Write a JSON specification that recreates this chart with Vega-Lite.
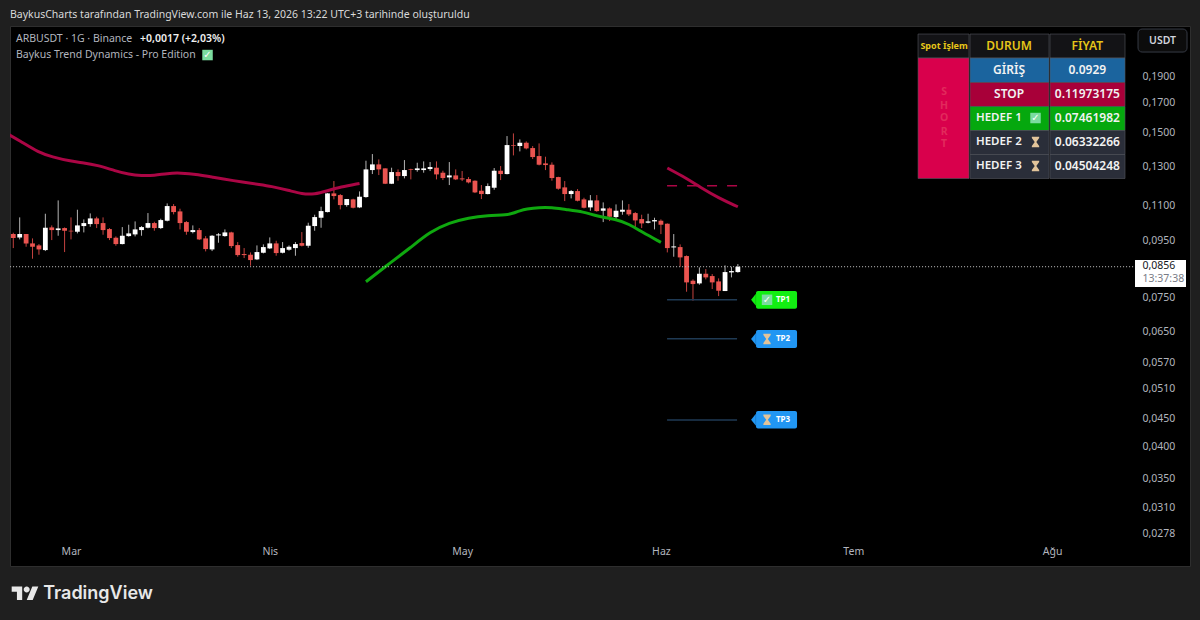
{
  "$schema": "https://vega.github.io/schema/vega-lite/v6.json",
  "width": 1180,
  "height": 540,
  "autosize": {"type": "none"},
  "padding": {"left": 10, "top": 26, "right": 10, "bottom": 54},
  "background": "#1f1f1f",
  "view": {"fill": "#000000", "stroke": "#2e2e2e"},
  "title": {
    "text": "BaykusCharts tarafından TradingView.com ile Haz 13, 2026 13:22 UTC+3 tarihinde oluşturuldu",
    "anchor": "start",
    "frame": "group",
    "offset": 6,
    "font": "Noto Sans",
    "fontSize": 10.5,
    "fontWeight": "normal",
    "color": "#d9d9d9"
  },
  "datasets": {
    "candles": [
      {"date":"2026-02-20","open":0.09775,"high":0.09830,"low":0.09215,"close":0.09611},
      {"date":"2026-02-21","open":0.09638,"high":0.10485,"low":0.09558,"close":0.09775},
      {"date":"2026-02-22","open":0.09775,"high":0.09775,"low":0.09267,"close":0.09398},
      {"date":"2026-02-23","open":0.09398,"high":0.09598,"low":0.08812,"close":0.09267},
      {"date":"2026-02-24","open":0.09319,"high":0.09372,"low":0.08961,"close":0.09164},
      {"date":"2026-02-25","open":0.09138,"high":0.10647,"low":0.09100,"close":0.10038},
      {"date":"2026-02-26","open":0.10052,"high":0.10137,"low":0.09531,"close":0.09940},
      {"date":"2026-02-27","open":0.09940,"high":0.11261,"low":0.09706,"close":0.10010},
      {"date":"2026-02-28","open":0.10024,"high":0.10052,"low":0.09062,"close":0.09912},
      {"date":"2026-03-01","open":0.09912,"high":0.10485,"low":0.09558,"close":0.09885},
      {"date":"2026-03-02","open":0.09871,"high":0.10828,"low":0.09802,"close":0.10137},
      {"date":"2026-03-03","open":0.10109,"high":0.10396,"low":0.09843,"close":0.10237},
      {"date":"2026-03-04","open":0.10194,"high":0.10662,"low":0.10080,"close":0.10440},
      {"date":"2026-03-05","open":0.10440,"high":0.10514,"low":0.10024,"close":0.10194},
      {"date":"2026-03-06","open":0.10237,"high":0.10485,"low":0.09747,"close":0.09940},
      {"date":"2026-03-07","open":0.09982,"high":0.10024,"low":0.09531,"close":0.09611},
      {"date":"2026-03-08","open":0.09625,"high":0.09679,"low":0.09306,"close":0.09372},
      {"date":"2026-03-09","open":0.09372,"high":0.10066,"low":0.09359,"close":0.09706},
      {"date":"2026-03-10","open":0.09692,"high":0.10166,"low":0.09665,"close":0.09802},
      {"date":"2026-03-11","open":0.09761,"high":0.10309,"low":0.09679,"close":0.09968},
      {"date":"2026-03-12","open":0.09940,"high":0.10109,"low":0.09706,"close":0.10066},
      {"date":"2026-03-13","open":0.10038,"high":0.10677,"low":0.10010,"close":0.10237},
      {"date":"2026-03-14","open":0.10237,"high":0.10295,"low":0.09912,"close":0.10024},
      {"date":"2026-03-15","open":0.10024,"high":0.10426,"low":0.09982,"close":0.10367},
      {"date":"2026-03-16","open":0.10338,"high":0.11120,"low":0.10309,"close":0.10996},
      {"date":"2026-03-17","open":0.10996,"high":0.11089,"low":0.10618,"close":0.10722},
      {"date":"2026-03-18","open":0.10752,"high":0.10874,"low":0.09968,"close":0.10237},
      {"date":"2026-03-19","open":0.10280,"high":0.10323,"low":0.09747,"close":0.09871},
      {"date":"2026-03-20","open":0.09857,"high":0.10137,"low":0.09802,"close":0.09940},
      {"date":"2026-03-21","open":0.09940,"high":0.10024,"low":0.09531,"close":0.09558},
      {"date":"2026-03-22","open":0.09598,"high":0.09692,"low":0.09087,"close":0.09177},
      {"date":"2026-03-23","open":0.09164,"high":0.09733,"low":0.09100,"close":0.09706},
      {"date":"2026-03-24","open":0.09720,"high":0.09816,"low":0.09425,"close":0.09761},
      {"date":"2026-03-25","open":0.09692,"high":0.09968,"low":0.09665,"close":0.09843},
      {"date":"2026-03-26","open":0.09843,"high":0.09871,"low":0.09215,"close":0.09293},
      {"date":"2026-03-27","open":0.09332,"high":0.09451,"low":0.08886,"close":0.08948},
      {"date":"2026-03-28","open":0.08986,"high":0.09215,"low":0.08836,"close":0.08948},
      {"date":"2026-03-29","open":0.08961,"high":0.09049,"low":0.08556,"close":0.08762},
      {"date":"2026-03-30","open":0.08787,"high":0.09319,"low":0.08762,"close":0.09062},
      {"date":"2026-03-31","open":0.09036,"high":0.09359,"low":0.09011,"close":0.09254},
      {"date":"2026-04-01","open":0.09203,"high":0.09638,"low":0.09177,"close":0.09398},
      {"date":"2026-04-02","open":0.09398,"high":0.09504,"low":0.08923,"close":0.09024},
      {"date":"2026-04-03","open":0.09036,"high":0.09451,"low":0.09011,"close":0.09215},
      {"date":"2026-04-04","open":0.09151,"high":0.09319,"low":0.09113,"close":0.09267},
      {"date":"2026-04-05","open":0.09215,"high":0.09451,"low":0.08923,"close":0.09372},
      {"date":"2026-04-06","open":0.09411,"high":0.09857,"low":0.09280,"close":0.09306},
      {"date":"2026-04-07","open":0.09306,"high":0.10252,"low":0.09228,"close":0.10123},
      {"date":"2026-04-08","open":0.10109,"high":0.10603,"low":0.09912,"close":0.10499},
      {"date":"2026-04-09","open":0.10470,"high":0.10965,"low":0.10038,"close":0.10767},
      {"date":"2026-04-10","open":0.10722,"high":0.11614,"low":0.10707,"close":0.11598},
      {"date":"2026-04-11","open":0.11598,"high":0.12216,"low":0.11309,"close":0.11469},
      {"date":"2026-04-12","open":0.11517,"high":0.11566,"low":0.10843,"close":0.11042},
      {"date":"2026-04-13","open":0.11042,"high":0.11325,"low":0.10965,"close":0.11325},
      {"date":"2026-04-14","open":0.11309,"high":0.11341,"low":0.10889,"close":0.10919},
      {"date":"2026-04-15","open":0.10935,"high":0.11696,"low":0.10904,"close":0.11437},
      {"date":"2026-04-16","open":0.11421,"high":0.13306,"low":0.11389,"close":0.12830},
      {"date":"2026-04-17","open":0.12794,"high":0.13685,"low":0.12581,"close":0.13103},
      {"date":"2026-04-18","open":0.13103,"high":0.13381,"low":0.12528,"close":0.12830},
      {"date":"2026-04-19","open":0.12885,"high":0.12885,"low":0.12062,"close":0.12079},
      {"date":"2026-04-20","open":0.12079,"high":0.12921,"low":0.12062,"close":0.12687},
      {"date":"2026-04-21","open":0.12687,"high":0.12830,"low":0.12233,"close":0.12475},
      {"date":"2026-04-22","open":0.12475,"high":0.13343,"low":0.12354,"close":0.12794},
      {"date":"2026-04-23","open":0.12849,"high":0.12867,"low":0.12302,"close":0.12812},
      {"date":"2026-04-24","open":0.12794,"high":0.13195,"low":0.12705,"close":0.12885},
      {"date":"2026-04-25","open":0.12794,"high":0.13269,"low":0.12652,"close":0.12885},
      {"date":"2026-04-26","open":0.12849,"high":0.13232,"low":0.12741,"close":0.12957},
      {"date":"2026-04-27","open":0.12921,"high":0.13269,"low":0.12302,"close":0.12563},
      {"date":"2026-04-28","open":0.12652,"high":0.12758,"low":0.12267,"close":0.12371},
      {"date":"2026-04-29","open":0.12405,"high":0.13232,"low":0.12012,"close":0.12510},
      {"date":"2026-04-30","open":0.12510,"high":0.12830,"low":0.12267,"close":0.12302},
      {"date":"2026-05-01","open":0.12354,"high":0.12741,"low":0.12216,"close":0.12302},
      {"date":"2026-05-02","open":0.12319,"high":0.12423,"low":0.12096,"close":0.12147},
      {"date":"2026-05-03","open":0.12233,"high":0.12250,"low":0.11614,"close":0.11647},
      {"date":"2026-05-04","open":0.11729,"high":0.12012,"low":0.11325,"close":0.11566},
      {"date":"2026-05-05","open":0.11566,"high":0.12096,"low":0.11550,"close":0.11962},
      {"date":"2026-05-06","open":0.11878,"high":0.12903,"low":0.11778,"close":0.12758},
      {"date":"2026-05-07","open":0.12758,"high":0.13012,"low":0.12267,"close":0.12581},
      {"date":"2026-05-08","open":0.12581,"high":0.14760,"low":0.12563,"close":0.14212},
      {"date":"2026-05-09","open":0.14212,"high":0.14926,"low":0.13608,"close":0.14173},
      {"date":"2026-05-10","open":0.14153,"high":0.14555,"low":0.13839,"close":0.14352},
      {"date":"2026-05-11","open":0.14352,"high":0.14433,"low":0.13955,"close":0.14014},
      {"date":"2026-05-12","open":0.14034,"high":0.14153,"low":0.13400,"close":0.13513},
      {"date":"2026-05-13","open":0.13570,"high":0.14312,"low":0.13048,"close":0.13085},
      {"date":"2026-05-14","open":0.13158,"high":0.13532,"low":0.12794,"close":0.13066},
      {"date":"2026-05-15","open":0.13085,"high":0.13214,"low":0.12233,"close":0.12371},
      {"date":"2026-05-16","open":0.12423,"high":0.12440,"low":0.11778,"close":0.11828},
      {"date":"2026-05-17","open":0.11895,"high":0.12216,"low":0.11230,"close":0.11566},
      {"date":"2026-05-18","open":0.11566,"high":0.11762,"low":0.11357,"close":0.11712},
      {"date":"2026-05-19","open":0.11712,"high":0.11812,"low":0.11214,"close":0.11245},
      {"date":"2026-05-20","open":0.11309,"high":0.11389,"low":0.10889,"close":0.10919},
      {"date":"2026-05-21","open":0.10935,"high":0.11517,"low":0.10782,"close":0.11261},
      {"date":"2026-05-22","open":0.11261,"high":0.11517,"low":0.10737,"close":0.10767},
      {"date":"2026-05-23","open":0.10782,"high":0.11167,"low":0.10280,"close":0.10889},
      {"date":"2026-05-24","open":0.10889,"high":0.10935,"low":0.10323,"close":0.10514},
      {"date":"2026-05-25","open":0.10499,"high":0.11073,"low":0.10396,"close":0.10782},
      {"date":"2026-05-26","open":0.10737,"high":0.11261,"low":0.10603,"close":0.10828},
      {"date":"2026-05-27","open":0.10828,"high":0.11089,"low":0.10544,"close":0.10618},
      {"date":"2026-05-28","open":0.10677,"high":0.10722,"low":0.10010,"close":0.10353},
      {"date":"2026-05-29","open":0.10411,"high":0.10603,"low":0.10024,"close":0.10223},
      {"date":"2026-05-30","open":0.10252,"high":0.10647,"low":0.10223,"close":0.10309},
      {"date":"2026-05-31","open":0.10309,"high":0.10470,"low":0.09968,"close":0.10367},
      {"date":"2026-06-01","open":0.10338,"high":0.10396,"low":0.09775,"close":0.10166},
      {"date":"2026-06-02","open":0.10209,"high":0.10223,"low":0.09049,"close":0.09215},
      {"date":"2026-06-03","open":0.09241,"high":0.09775,"low":0.08886,"close":0.09280},
      {"date":"2026-06-04","open":0.09254,"high":0.09359,"low":0.08520,"close":0.08861},
      {"date":"2026-06-05","open":0.08911,"high":0.08936,"low":0.07670,"close":0.07977},
      {"date":"2026-06-06","open":0.08033,"high":0.08078,"low":0.07385,"close":0.07921},
      {"date":"2026-06-07","open":0.07943,"high":0.08496,"low":0.07899,"close":0.08272},
      {"date":"2026-06-08","open":0.08272,"high":0.08437,"low":0.08078,"close":0.08146},
      {"date":"2026-06-09","open":0.08192,"high":0.08261,"low":0.07757,"close":0.07977},
      {"date":"2026-06-10","open":0.08010,"high":0.08112,"low":0.07531,"close":0.07702},
      {"date":"2026-06-11","open":0.07692,"high":0.08568,"low":0.07692,"close":0.08331},
      {"date":"2026-06-12","open":0.08319,"high":0.08520,"low":0.08146,"close":0.08366},
      {"date":"2026-06-13","open":0.08331,"high":0.08616,"low":0.08308,"close":0.08520}
    ]
  },
  "encoding": {
    "x": {
      "field": "date",
      "type": "temporal",
      "title": null,
      "scale": {
        "type": "utc",
        "padding": 0,
        "domain": [
          {"year": 2026, "month": 2, "date": 19, "hours": 11, "minutes": 41, "utc": true},
          {"year": 2026, "month": 8, "date": 22, "hours": 12, "minutes": 19, "utc": true}
        ]
      },
      "axis": {
        "values": [
          {"year": 2026, "month": 3, "date": 1, "utc": true},
          {"year": 2026, "month": 4, "date": 1, "utc": true},
          {"year": 2026, "month": 5, "date": 1, "utc": true},
          {"year": 2026, "month": 6, "date": 1, "utc": true},
          {"year": 2026, "month": 7, "date": 1, "utc": true},
          {"year": 2026, "month": 8, "date": 1, "utc": true}
        ],
        "labelExpr": "['Oca','Şub','Mar','Nis','May','Haz','Tem','Ağu'][utcmonth(datum.value)]",
        "offset": -20,
        "domain": false,
        "ticks": false,
        "grid": false,
        "labelPadding": 0,
        "labelFont": "Noto Sans",
        "labelFontSize": 10.5,
        "labelColor": "#b2b5be"
      }
    },
    "y": {
      "field": "price",
      "type": "quantitative",
      "title": null,
      "scale": {"type": "log", "domain": [0.0242, 0.2345], "nice": false, "zero": false},
      "axis": {
        "orient": "right",
        "values": [0.19, 0.17, 0.15, 0.13, 0.11, 0.095, 0.075, 0.065, 0.057, 0.051, 0.045, 0.04, 0.035, 0.031, 0.0278],
        "labelExpr": "replace(format(datum.value, '.4f'), '.', ',')",
        "offset": -48,
        "domain": false,
        "ticks": false,
        "grid": false,
        "labelPadding": 0,
        "labelFont": "Noto Sans",
        "labelFontSize": 10.5,
        "labelColor": "#b2b5be"
      }
    }
  },
  "layer": [
    {
      "data": {"name": "candles"},
      "mark": {"type": "rule", "strokeWidth": 1},
      "encoding": {
        "y": {
          "field": "high",
          "type": "quantitative",
          "title": null,
          "scale": {"type": "log", "domain": [0.0242, 0.2345], "nice": false, "zero": false},
          "axis": {
            "orient": "right",
            "values": [0.19, 0.17, 0.15, 0.13, 0.11, 0.095, 0.075, 0.065, 0.057, 0.051, 0.045, 0.04, 0.035, 0.031, 0.0278],
            "labelExpr": "replace(format(datum.value, '.4f'), '.', ',')",
            "offset": -48,
            "domain": false,
            "ticks": false,
            "grid": false,
            "labelPadding": 0,
            "labelFont": "Noto Sans",
            "labelFontSize": 10.5,
            "labelColor": "#b2b5be"
          }
        },
        "y2": {"field": "low"},
        "color": {"condition": {"test": "datum.close >= datum.open", "value": "#b4b4b4"}, "value": "#c4423f"}
      }
    },
    {
      "data": {"name": "candles"},
      "mark": {"type": "bar", "size": 4.8},
      "encoding": {
        "y": {
          "field": "open",
          "type": "quantitative",
          "title": null,
          "scale": {"type": "log", "domain": [0.0242, 0.2345], "nice": false, "zero": false},
          "axis": {
            "orient": "right",
            "values": [0.19, 0.17, 0.15, 0.13, 0.11, 0.095, 0.075, 0.065, 0.057, 0.051, 0.045, 0.04, 0.035, 0.031, 0.0278],
            "labelExpr": "replace(format(datum.value, '.4f'), '.', ',')",
            "offset": -48,
            "domain": false,
            "ticks": false,
            "grid": false,
            "labelPadding": 0,
            "labelFont": "Noto Sans",
            "labelFontSize": 10.5,
            "labelColor": "#b2b5be"
          }
        },
        "y2": {"field": "close"},
        "color": {"condition": {"test": "datum.close >= datum.open", "value": "#ffffff"}, "value": "#ea5450"}
      }
    },
    {
      "data": {"values": [
        {"segment": "trend", "date": "2026-02-19", "price": 0.14926},
        {"segment": "trend", "date": "2026-02-21", "price": 0.14473},
        {"segment": "trend", "date": "2026-02-24", "price": 0.13762},
        {"segment": "trend", "date": "2026-02-26", "price": 0.13532},
        {"segment": "trend", "date": "2026-03-01", "price": 0.13269},
        {"segment": "trend", "date": "2026-03-03", "price": 0.13195},
        {"segment": "trend", "date": "2026-03-05", "price": 0.13066},
        {"segment": "trend", "date": "2026-03-08", "price": 0.12741},
        {"segment": "trend", "date": "2026-03-10", "price": 0.12563},
        {"segment": "trend", "date": "2026-03-12", "price": 0.12493},
        {"segment": "trend", "date": "2026-03-14", "price": 0.12502},
        {"segment": "trend", "date": "2026-03-16", "price": 0.12616},
        {"segment": "trend", "date": "2026-03-18", "price": 0.12652},
        {"segment": "trend", "date": "2026-03-21", "price": 0.12545},
        {"segment": "trend", "date": "2026-03-23", "price": 0.12423},
        {"segment": "trend", "date": "2026-03-26", "price": 0.12250},
        {"segment": "trend", "date": "2026-03-31", "price": 0.12012},
        {"segment": "trend", "date": "2026-04-01", "price": 0.11962},
        {"segment": "trend", "date": "2026-04-04", "price": 0.11745},
        {"segment": "trend", "date": "2026-04-06", "price": 0.11566},
        {"segment": "trend", "date": "2026-04-08", "price": 0.11550},
        {"segment": "trend", "date": "2026-04-10", "price": 0.11729},
        {"segment": "trend", "date": "2026-04-12", "price": 0.11911},
        {"segment": "trend", "date": "2026-04-15", "price": 0.12096},
        {"segment": "short", "date": "2026-06-02", "price": 0.12903},
        {"segment": "short", "date": "2026-06-05", "price": 0.12354},
        {"segment": "short", "date": "2026-06-07", "price": 0.11928},
        {"segment": "short", "date": "2026-06-10", "price": 0.11373},
        {"segment": "short", "date": "2026-06-13", "price": 0.10965}
      ]},
      "mark": {"type": "line", "clip": true, "color": "#ab0645", "strokeWidth": 3, "interpolate": "basis"},
      "encoding": {"detail": {"field": "segment"}}
    },
    {
      "data": {"values": [
        {"date": "2026-04-16", "price": 0.07999},
        {"date": "2026-04-19", "price": 0.08520},
        {"date": "2026-04-23", "price": 0.09241},
        {"date": "2026-04-26", "price": 0.09871},
        {"date": "2026-04-29", "price": 0.10252},
        {"date": "2026-05-02", "price": 0.10470},
        {"date": "2026-05-05", "price": 0.10573},
        {"date": "2026-05-08", "price": 0.10588},
        {"date": "2026-05-09", "price": 0.10677},
        {"date": "2026-05-10", "price": 0.10782},
        {"date": "2026-05-11", "price": 0.10859},
        {"date": "2026-05-13", "price": 0.10935},
        {"date": "2026-05-15", "price": 0.10935},
        {"date": "2026-05-17", "price": 0.10843},
        {"date": "2026-05-20", "price": 0.10737},
        {"date": "2026-05-22", "price": 0.10529},
        {"date": "2026-05-25", "price": 0.10411},
        {"date": "2026-05-27", "price": 0.10194},
        {"date": "2026-05-29", "price": 0.09871},
        {"date": "2026-06-01", "price": 0.09438}
      ]},
      "mark": {"type": "line", "color": "#0fa80f", "strokeWidth": 3, "interpolate": "basis"},
      "encoding": {}
    },
    {
      "data": {"values": [
        {"date": "2026-02-19T12:00Z", "date2": "2026-08-13T22:00Z", "price": 0.0852}
      ]},
      "mark": {"type": "rule", "color": "#c8c8c8", "strokeWidth": 1, "strokeDash": [1, 2]},
      "encoding": {"x2": {"field": "date2"}}
    },
    {
      "data": {"values": [
        {"date": "2026-06-01T23:00Z", "date2": "2026-06-13T00:00Z", "price": 0.11973175}
      ]},
      "mark": {"type": "rule", "color": "#ab0645", "strokeWidth": 1.5, "strokeDash": [10, 10]},
      "encoding": {"x2": {"field": "date2"}}
    },
    {
      "data": {"values": [
        {"date": "2026-06-01T23:00Z", "date2": "2026-06-12T21:00Z", "price": 0.07416},
        {"date": "2026-06-01T23:00Z", "date2": "2026-06-12T21:00Z", "price": 0.06295},
        {"date": "2026-06-01T23:00Z", "date2": "2026-06-12T21:00Z", "price": 0.04472}
      ]},
      "mark": {"type": "rule", "color": "#1f3a54", "strokeWidth": 1.5},
      "encoding": {"x2": {"field": "date2"}}
    },
    {
      "data": {"values": [
        {"tag": "TP1", "date": "2026-06-15T10:30Z", "price": 0.07414},
        {"tag": "TP2", "date": "2026-06-15T10:30Z", "price": 0.06287},
        {"tag": "TP3", "date": "2026-06-15T10:30Z", "price": 0.04475}
      ]},
      "mark": {"type": "point", "filled": true, "opacity": 1, "shape": "M-0.4,0L0.4,-1L0.4,1Z", "size": 144},
      "encoding": {"color": {"condition": {"test": "datum.tag == 'TP1'", "value": "#12ee12"}, "value": "#2196f3"}}
    },
    {
      "data": {"values": [
        {"tag": "TP1", "date": "2026-06-15T20:00Z", "date2": "2026-06-22T05:30Z", "price": 0.07693, "price2": 0.07141},
        {"tag": "TP2", "date": "2026-06-15T20:00Z", "date2": "2026-06-22T05:30Z", "price": 0.06529, "price2": 0.06053},
        {"tag": "TP3", "date": "2026-06-15T20:00Z", "date2": "2026-06-22T05:30Z", "price": 0.04644, "price2": 0.04315}
      ]},
      "mark": {"type": "rect", "cornerRadius": 2},
      "encoding": {
        "x2": {"field": "date2"},
        "y2": {"field": "price2"},
        "color": {"condition": {"test": "datum.tag == 'TP1'", "value": "#12ee12"}, "value": "#2196f3"}
      }
    },
    {
      "data": {"values": [
        {"kind": "head", "date": "2026-07-11T02:24Z", "date2": "2026-07-19T01:12Z", "price": 0.22671, "price2": 0.20494},
        {"kind": "head", "date": "2026-07-19T05:00Z", "date2": "2026-07-31T12:43Z", "price": 0.22671, "price2": 0.20494},
        {"kind": "head", "date": "2026-07-31T16:20Z", "date2": "2026-08-12T09:07Z", "price": 0.22671, "price2": 0.20494},
        {"kind": "short", "date": "2026-07-11T02:24Z", "date2": "2026-07-19T01:12Z", "price": 0.20494, "price2": 0.12347},
        {"kind": "entry", "date": "2026-07-19T05:00Z", "date2": "2026-07-31T12:43Z", "price": 0.20494, "price2": 0.18488},
        {"kind": "entry", "date": "2026-07-31T16:20Z", "date2": "2026-08-12T09:07Z", "price": 0.20494, "price2": 0.18488},
        {"kind": "stop", "date": "2026-07-19T05:00Z", "date2": "2026-07-31T12:43Z", "price": 0.18488, "price2": 0.16713},
        {"kind": "stop", "date": "2026-07-31T16:20Z", "date2": "2026-08-12T09:07Z", "price": 0.18488, "price2": 0.16713},
        {"kind": "hit", "date": "2026-07-19T05:00Z", "date2": "2026-07-31T12:43Z", "price": 0.16713, "price2": 0.15109},
        {"kind": "hit", "date": "2026-07-31T16:20Z", "date2": "2026-08-12T09:07Z", "price": 0.16713, "price2": 0.15109},
        {"kind": "open", "date": "2026-07-19T05:00Z", "date2": "2026-07-31T12:43Z", "price": 0.15109, "price2": 0.13658},
        {"kind": "open", "date": "2026-07-31T16:20Z", "date2": "2026-08-12T09:07Z", "price": 0.15109, "price2": 0.13658},
        {"kind": "open", "date": "2026-07-19T05:00Z", "date2": "2026-07-31T12:43Z", "price": 0.13658, "price2": 0.12347},
        {"kind": "open", "date": "2026-07-31T16:20Z", "date2": "2026-08-12T09:07Z", "price": 0.13658, "price2": 0.12347}
      ]},
      "mark": {"type": "rect", "stroke": "#55585f", "strokeWidth": 0.6},
      "encoding": {
        "x2": {"field": "date2"},
        "y2": {"field": "price2"},
        "color": {
          "field": "kind",
          "type": "nominal",
          "legend": null,
          "scale": {
            "domain": ["head", "short", "entry", "stop", "hit", "open"],
            "range": ["#131316", "#d9004c", "#1b649e", "#a80039", "#05a80e", "#2a2e39"]
          }
        }
      }
    },
    {
      "data": {"values": [
        {"date": "2026-08-14T09:50Z", "date2": "2026-08-22T01:12Z", "price": 0.23152, "price2": 0.21018}
      ]},
      "mark": {"type": "rect", "fill": "#0c0c0c", "stroke": "#363a45", "strokeWidth": 1, "cornerRadius": 4},
      "encoding": {"x2": {"field": "date2"}, "y2": {"field": "price2"}}
    },
    {
      "data": {"values": [
        {"date": "2026-08-13T22:30Z", "date2": "2026-08-21T21:20Z", "price": 0.08765, "price2": 0.07824}
      ]},
      "mark": {"type": "rect", "fill": "#ffffff"},
      "encoding": {"x2": {"field": "date2"}, "y2": {"field": "price2"}}
    },
    {
      "data": {"values": [
        {"date": "2026-07-29T10:05Z", "price": 0.15924},
        {"date": "2026-03-22T07:00Z", "price": 0.20754},
        {"date": "2026-06-17T13:12Z", "price": 0.07414}
      ]},
      "mark": {"type": "square", "color": "#7bdc9f", "opacity": 1, "size": 110, "cornerRadius": 2},
      "encoding": {}
    },
    {
      "data": {"values": [
        {"date": "2026-07-29T10:05Z", "price": 0.15924},
        {"date": "2026-03-22T07:00Z", "price": 0.20754},
        {"date": "2026-06-17T13:12Z", "price": 0.07414}
      ]},
      "mark": {"type": "text", "text": "✓", "font": "DejaVu Sans", "fontSize": 10, "fontWeight": "bold", "color": "#ffffff", "baseline": "middle", "align": "center"},
      "encoding": {}
    },
    {
      "data": {"values": [
        {"date": "2026-07-29T10:05Z", "price": 0.14395},
        {"date": "2026-07-29T10:05Z", "price": 0.13013},
        {"date": "2026-06-17T13:12Z", "price": 0.06287},
        {"date": "2026-06-17T13:12Z", "price": 0.04475}
      ]},
      "mark": {"type": "point", "filled": true, "opacity": 1, "color": "#e2c49a", "size": 110, "shape": "M-0.7,-1H0.7V-0.75L0.15,0L0.7,0.75V1H-0.7V0.75L-0.15,0L-0.7,-0.75Z"},
      "encoding": {}
    },
    {
      "data": {"values": [
        {"date": "2026-02-20T10:06Z", "price": 0.22199, "label": "ARBUSDT · 1G · Binance"},
        {"date": "2026-02-20T10:06Z", "price": 0.20754, "label": "Baykus Trend Dynamics  - Pro Edition"}
      ]},
      "mark": {"type": "text", "align": "left", "baseline": "middle", "font": "Noto Sans", "fontSize": 10.5, "color": "#b2b5be"},
      "encoding": {"text": {"field": "label"}}
    },
    {
      "data": {"values": [
        {"date": "2026-03-11T18:14Z", "price": 0.22199, "label": "+0,0017 (+2,03%)"}
      ]},
      "mark": {"type": "text", "align": "left", "baseline": "middle", "font": "Noto Sans", "fontSize": 10.5, "fontWeight": 600, "color": "#f0f0f0"},
      "encoding": {"text": {"field": "label"}}
    },
    {
      "data": {"values": [
        {"date": "2026-07-15T03:50Z", "price": 0.21555, "label": "Spot İşlem"}
      ]},
      "mark": {"type": "text", "align": "center", "baseline": "middle", "font": "Noto Sans", "fontSize": 9, "fontWeight": "bold", "color": "#e6c619"},
      "encoding": {"text": {"field": "label"}}
    },
    {
      "data": {"values": [
        {"date": "2026-07-25T07:00Z", "price": 0.21555, "label": "DURUM"},
        {"date": "2026-08-06T12:00Z", "price": 0.21555, "label": "FİYAT"}
      ]},
      "mark": {"type": "text", "align": "center", "baseline": "middle", "font": "Noto Sans", "fontSize": 12, "fontWeight": 600, "color": "#e6c619"},
      "encoding": {"text": {"field": "label"}}
    },
    {
      "data": {"values": [
        {"date": "2026-07-25T07:00Z", "price": 0.19485, "label": "GİRİŞ"},
        {"date": "2026-08-06T12:00Z", "price": 0.19485, "label": "0.0929"},
        {"date": "2026-07-25T07:00Z", "price": 0.17615, "label": "STOP"},
        {"date": "2026-08-06T12:00Z", "price": 0.17615, "label": "0.11973175"},
        {"date": "2026-08-06T12:00Z", "price": 0.15924, "label": "0.07461982"},
        {"date": "2026-08-06T12:00Z", "price": 0.14395, "label": "0.06332266"},
        {"date": "2026-08-06T12:00Z", "price": 0.13013, "label": "0.04504248"}
      ]},
      "mark": {"type": "text", "align": "center", "baseline": "middle", "font": "Noto Sans", "fontSize": 12, "fontWeight": 600, "color": "#f2f2f2"},
      "encoding": {"text": {"field": "label"}}
    },
    {
      "data": {"values": [
        {"date": "2026-07-20T03:22Z", "price": 0.15924, "label": "HEDEF 1"},
        {"date": "2026-07-20T03:22Z", "price": 0.14395, "label": "HEDEF 2"},
        {"date": "2026-07-20T03:22Z", "price": 0.13013, "label": "HEDEF 3"}
      ]},
      "mark": {"type": "text", "align": "left", "baseline": "middle", "font": "Noto Sans", "fontSize": 11.5, "fontWeight": 600, "color": "#f2f2f2"},
      "encoding": {"text": {"field": "label"}}
    },
    {
      "data": {"values": [
        {"date": "2026-07-15T03:50Z", "price": 0.17764, "label": "S"},
        {"date": "2026-07-15T03:50Z", "price": 0.16748, "label": "H"},
        {"date": "2026-07-15T03:50Z", "price": 0.15924, "label": "O"},
        {"date": "2026-07-15T03:50Z", "price": 0.15013, "label": "R"},
        {"date": "2026-07-15T03:50Z", "price": 0.14274, "label": "T"}
      ]},
      "mark": {"type": "text", "align": "center", "baseline": "middle", "font": "Noto Sans", "fontSize": 10.5, "fontWeight": "bold", "color": "#e22a5c"},
      "encoding": {"text": {"field": "label"}}
    },
    {
      "data": {"values": [
        {"date": "2026-06-20T01:00Z", "price": 0.07414, "label": "TP1"},
        {"date": "2026-06-20T01:00Z", "price": 0.06287, "label": "TP2"},
        {"date": "2026-06-20T01:00Z", "price": 0.04475, "label": "TP3"}
      ]},
      "mark": {"type": "text", "align": "center", "baseline": "middle", "font": "Noto Sans", "fontSize": 8, "fontWeight": "bold", "color": "#ffffff"},
      "encoding": {"text": {"field": "label"}}
    },
    {
      "data": {"values": [
        {"date": "2026-08-18T05:30Z", "price": 0.22059, "label": "USDT"}
      ]},
      "mark": {"type": "text", "align": "center", "baseline": "middle", "font": "Noto Sans", "fontSize": 10.5, "fontWeight": 600, "color": "#d1d4dc"},
      "encoding": {"text": {"field": "label"}}
    },
    {
      "data": {"values": [
        {"date": "2026-08-15T02:38Z", "price": 0.08546, "label": "0,0856"}
      ]},
      "mark": {"type": "text", "align": "left", "baseline": "middle", "font": "Noto Sans", "fontSize": 10.5, "color": "#131722"},
      "encoding": {"text": {"field": "label"}}
    },
    {
      "data": {"values": [
        {"date": "2026-08-15T02:38Z", "price": 0.08108, "label": "13:37:38"}
      ]},
      "mark": {"type": "text", "align": "left", "baseline": "middle", "font": "Noto Sans", "fontSize": 10.5, "color": "#787b86"},
      "encoding": {"text": {"field": "label"}}
    },
    {
      "data": {"values": [
        {"date": "2026-02-19T18:00Z", "price": 0.02248}
      ]},
      "mark": {"type": "point", "filled": true, "opacity": 1, "color": "#e8e8e8", "size": 2.25, "shape": "M14 22H7V11H0V4h14v18zM28 22h-8l7.5-18h8L28 22zM24 8a4 4 0 1 1-8 0a4 4 0 1 1 8 0z"},
      "encoding": {}
    },
    {
      "data": {"values": [
        {"date": "2026-02-24T16:00Z", "price": 0.0215, "label": "TradingView"}
      ]},
      "mark": {"type": "text", "align": "left", "baseline": "middle", "font": "Inter", "fontSize": 18, "fontWeight": 600, "color": "#e8e8e8"},
      "encoding": {"text": {"field": "label"}}
    }
  ]
}
